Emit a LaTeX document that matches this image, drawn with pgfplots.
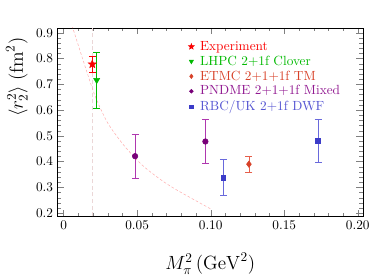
\documentclass[border=0pt]{standalone}
\usepackage{pgfplots}
\pgfplotsset{compat=1.18}
\definecolor{cexp}{RGB}{250,0,0}
\definecolor{clhpc}{RGB}{0,185,0}
\definecolor{cetmc}{RGB}{215,65,40}
\definecolor{cetmcb}{RGB}{230,95,75}
\definecolor{cpnd}{RGB}{120,0,120}
\definecolor{cpndb}{RGB}{175,55,175}
\definecolor{cpndt}{RGB}{145,25,145}
\definecolor{crbc}{RGB}{60,60,200}
\definecolor{crbcb}{RGB}{105,105,220}
\definecolor{crbct}{RGB}{85,85,210}
\definecolor{ccurve}{RGB}{255,175,175}
\definecolor{cvline}{RGB}{235,215,215}
\pgfdeclareplotmark{fstar}{%
  \pgfpathmoveto{\pgfpointpolar{90}{\pgfplotmarksize}}%
  \pgfpathlineto{\pgfpointpolar{126}{0.42\pgfplotmarksize}}%
  \pgfpathlineto{\pgfpointpolar{162}{\pgfplotmarksize}}%
  \pgfpathlineto{\pgfpointpolar{198}{0.42\pgfplotmarksize}}%
  \pgfpathlineto{\pgfpointpolar{234}{\pgfplotmarksize}}%
  \pgfpathlineto{\pgfpointpolar{270}{0.42\pgfplotmarksize}}%
  \pgfpathlineto{\pgfpointpolar{306}{\pgfplotmarksize}}%
  \pgfpathlineto{\pgfpointpolar{342}{0.42\pgfplotmarksize}}%
  \pgfpathlineto{\pgfpointpolar{18}{\pgfplotmarksize}}%
  \pgfpathlineto{\pgfpointpolar{54}{0.42\pgfplotmarksize}}%
  \pgfpathclose
  \pgfusepathqfillstroke
}
\begin{document}
\begin{tikzpicture}
\begin{axis}[
  scale only axis, width=230pt, height=142pt,
  xmin=-0.004, xmax=0.2034, ymin=0.188, ymax=0.919,
  xtick={0,0.05,0.1,0.15,0.2}, xticklabels={0,0.05,0.10,0.15,0.20},
  ytick={0.2,0.3,0.4,0.5,0.6,0.7,0.8,0.9},
  yticklabels={0.2,0.3,0.4,0.5,0.6,0.7,0.8,0.9},
  minor x tick num=4, minor y tick num=4,
  tick align=inside, tick pos=both,
  major tick length=5pt, minor tick length=2.5pt,
  tick label style={font=\normalsize},
  xlabel={$M_\pi^2\,(\mathrm{GeV}^2)$},
  ylabel={$\langle r_2^2\rangle\;(\mathrm{fm}^2)$},
  label style={font=\Large},
  xlabel style={at={(axis description cs:0.5,-0.2535)}, anchor=center},
  ylabel style={at={(axis description cs:-0.1337,0.738)}, anchor=center},
  legend style={at={(axis description cs:0.428,0.945)}, anchor=north west,
    draw=none, fill=none, font=\normalsize, row sep=-1.3pt, column sep=2.5pt,
    inner sep=0pt},
  legend image post style={scale=0.7},
  legend cell align=left,
  clip=true,
]
\addplot[densely dashed, color=cvline, forget plot] coordinates {(0.0195,0.188) (0.0195,0.919)};
\addplot[dash pattern=on 2pt off 1.5pt, color=ccurve, smooth, forget plot] coordinates {
 (0.0050,0.945) (0.0063,0.918) (0.0164,0.738) (0.0221,0.645) (0.030,0.550) (0.040,0.470)
 (0.048,0.418) (0.0547,0.380) (0.066,0.330) (0.0772,0.289) (0.0998,0.217)};
\addplot[only marks, mark=fstar, mark size=3.2pt, color=cexp,
  error bars/.cd, y dir=both, y explicit,
  error bar style={cexp, line width=0.6pt}, error mark options={rotate=90, mark size=2.6pt, cexp}]
  coordinates {(0.0195,0.778) +- (0,0.031)};
\addlegendentry{\textcolor{cexp}{Experiment}}
\addplot[only marks, mark=triangle*, mark options={rotate=180}, mark size=2.6pt, color=clhpc,
  error bars/.cd, y dir=both, y explicit,
  error bar style={clhpc, line width=0.6pt}, error mark options={rotate=90, mark size=2.6pt, clhpc}]
  coordinates {(0.0225,0.716) +- (0,0.109)};
\addlegendentry{\textcolor{clhpc}{LHPC 2+1f Clover}}
\addplot[only marks, mark=diamond*, mark size=2.4pt, color=cetmc,
  error bars/.cd, y dir=both, y explicit,
  error bar style={cetmcb, line width=0.6pt}, error mark options={rotate=90, mark size=2.6pt, cetmcb}]
  coordinates {(0.126,0.390) +- (0,0.030)};
\addlegendentry{\textcolor{cetmc}{ETMC 2+1+1f TM}}
\addplot[only marks, mark=*, mark size=2.1pt, color=cpnd,
  error bars/.cd, y dir=both, y explicit,
  error bar style={cpndb, line width=0.6pt}, error mark options={rotate=90, mark size=2.6pt, cpndb}]
  coordinates {(0.0486,0.421) +- (0,0.087) (0.0964,0.478) +- (0,0.085)};
\addlegendentry{\textcolor{cpndt}{PNDME 2+1+1f Mixed}}
\addplot[only marks, mark=square*, mark size=1.8pt, color=crbc,
  error bars/.cd, y dir=both, y explicit,
  error bar style={crbcb, line width=0.6pt}, error mark options={rotate=90, mark size=2.6pt, crbcb}]
  coordinates {(0.1086,0.338) +- (0,0.070) (0.173,0.480) +- (0,0.083)};
\addlegendentry{\textcolor{crbct}{RBC/UK 2+1f DWF}}
\end{axis}
\path (current axis.south west) ++(-43.5pt,-48pt) coordinate (bbA);
\path (current axis.north east) ++(6.75pt,21pt) coordinate (bbB);
\end{tikzpicture}
\end{document}
